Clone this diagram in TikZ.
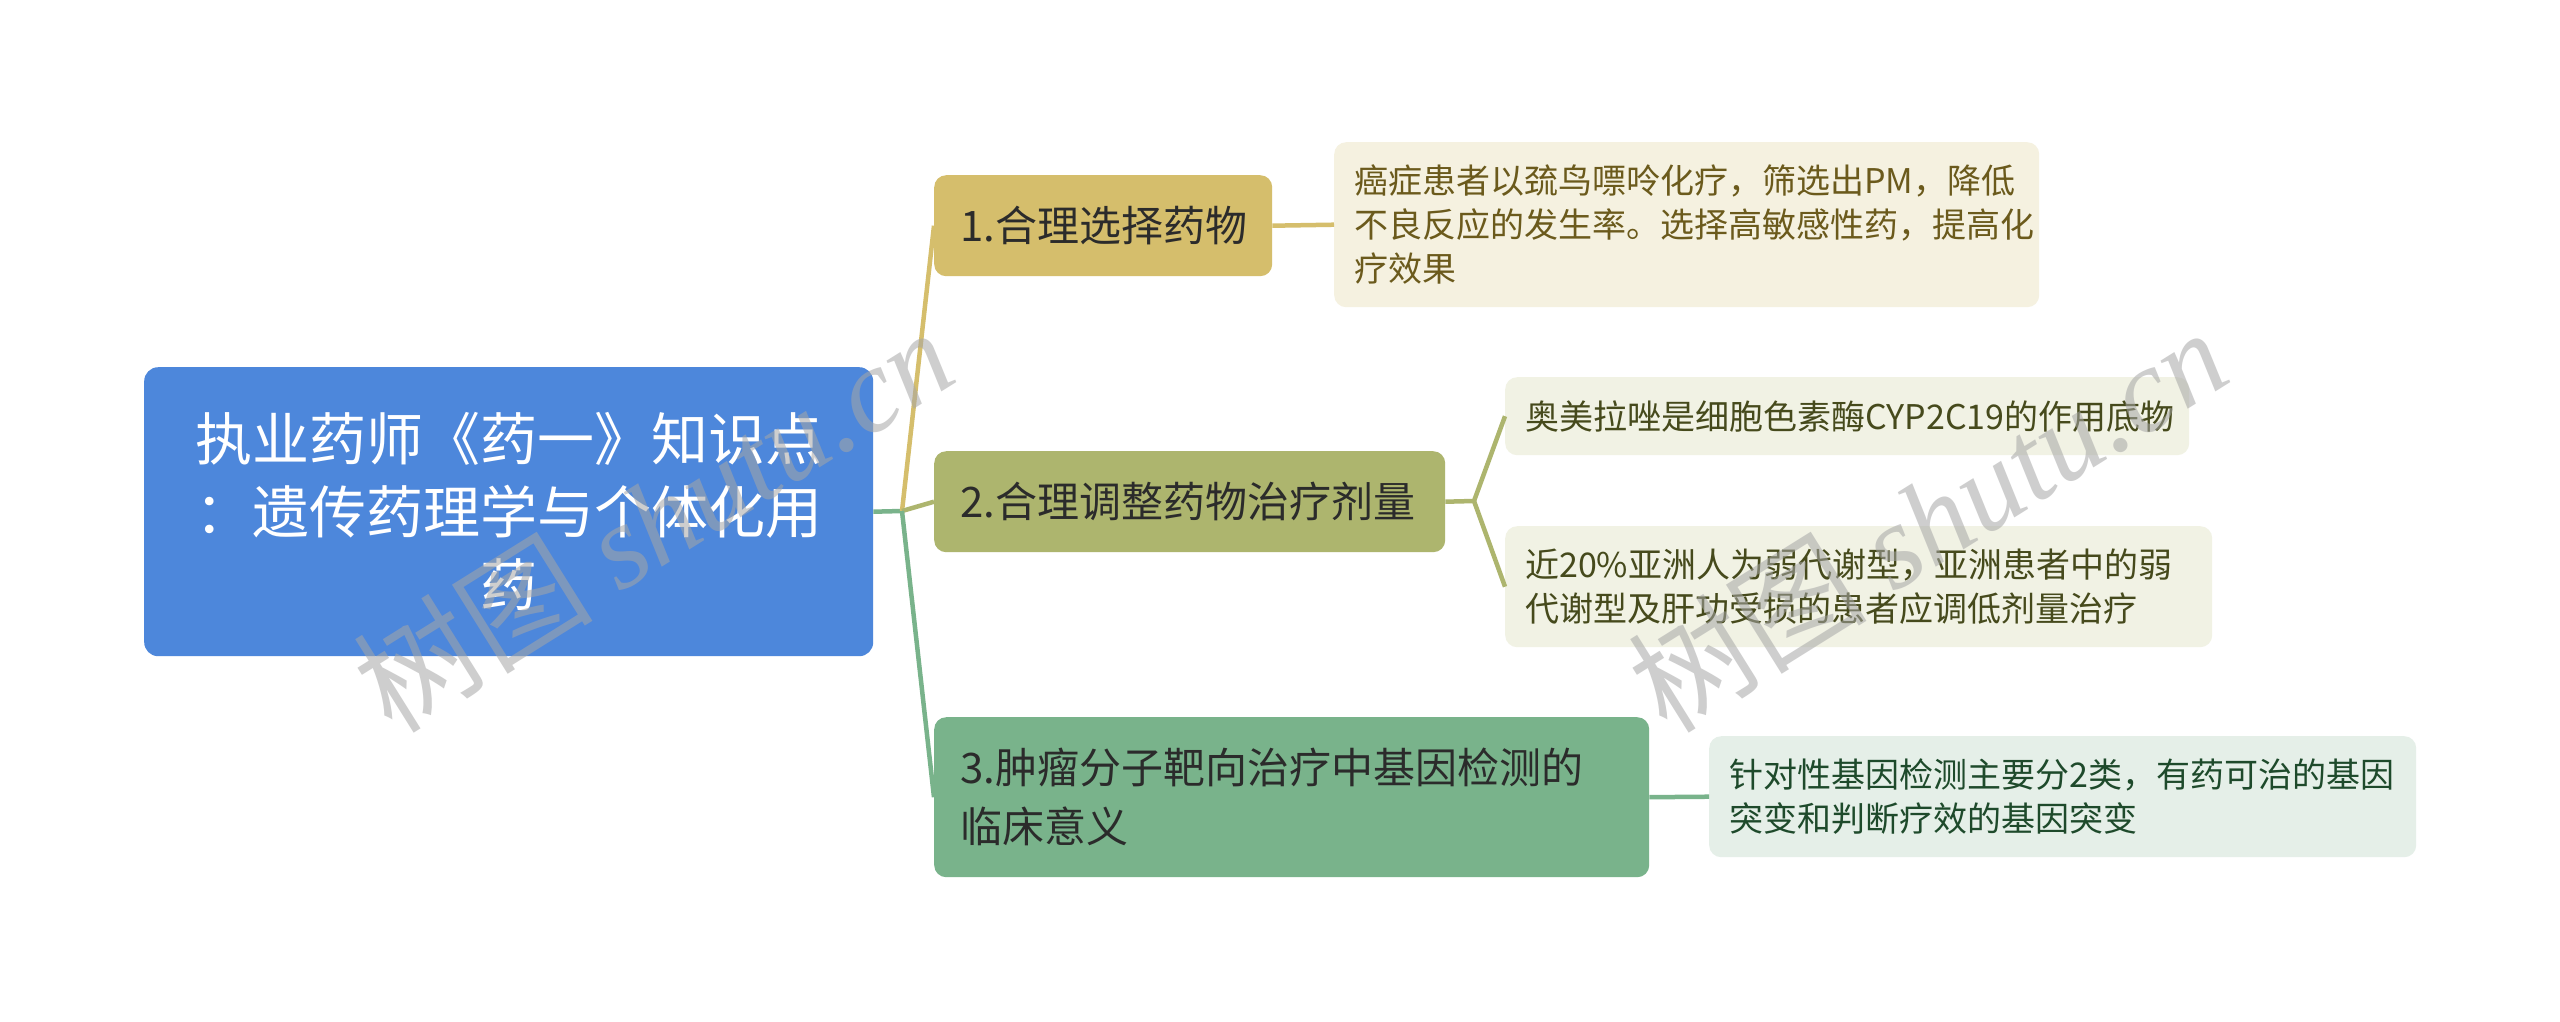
\documentclass[tikz,border=0pt]{standalone}
\usepackage{fontspec}
\setmainfont{Noto Sans CJK SC}
\newfontfamily\wmfont{Liberation Serif}
\definecolor{rootblue}{HTML}{4D87DB}
\definecolor{bone}{HTML}{D5BE6C}
\definecolor{btwo}{HTML}{ADB56E}
\definecolor{bthree}{HTML}{79B38B}
\definecolor{lone}{HTML}{F5F1E0}
\definecolor{ltwo}{HTML}{F1F2E4}
\definecolor{lthree}{HTML}{E5EFE8}
\definecolor{tone}{HTML}{6B5A1C}
\definecolor{ttwo}{HTML}{464A1C}
\definecolor{tthree}{HTML}{1E4A2B}
\definecolor{tbranch}{HTML}{2B2B2B}
\tikzset{
  box/.style={anchor=north west, rounded corners=12pt, inner ysep=0pt, align=left},
  rootbox/.style={box, fill=rootblue, text=white, align=center, rounded corners=14pt,
     font=\fontsize{57}{73}\selectfont},
  branchbox/.style={box, inner xsep=26pt, font=\fontsize{42}{59}\selectfont, text=tbranch},
  leafbox/.style={box, inner xsep=20pt, font=\fontsize{34}{44}\selectfont},
  conn/.style={line width=4.5pt},
  wm/.style={rotate=32, text=black!35, opacity=0.55, font=\fontsize{120}{120}\selectfont}
}
\begin{document}
\begin{tikzpicture}[x=1pt,y=-1pt]
\path[use as bounding box, fill=white] (0,0) rectangle (2560,1021);
% root
\node[rootbox, minimum width=729pt, minimum height=289pt, text width=680pt, inner xsep=24.5pt] (root) at (144,367)
  {执业药师《药一》知识点\\：遗传药理学与个体化用\\药};
% branches
\node[branchbox, fill=bone, minimum height=101pt, text width=286pt] (b1) at (934,175) {1.合理选择药物};
\node[branchbox, fill=btwo, minimum height=101pt, text width=459pt] (b2) at (934,451) {2.合理调整药物治疗剂量};
\node[branchbox, fill=bthree, minimum height=160pt, text width=663pt] (b3) at (934,717) {3.肿瘤分子靶向治疗中基因检测的\\临床意义};
% leaves
\node[leafbox, fill=lone, text=tone, minimum height=165pt, text width=665pt] (l1) at (1334,142)
  {癌症患者以巯鸟嘌呤化疗，筛选出PM，降低\\不良反应的发生率。选择高敏感性药，提高化\\疗效果};
\node[leafbox, fill=ltwo, text=ttwo, minimum height=78pt, text width=644pt] (l2a) at (1505,377)
  {奥美拉唑是细胞色素酶CYP2C19的作用底物};
\node[leafbox, fill=ltwo, text=ttwo, minimum height=121pt, text width=667pt] (l2b) at (1505,526)
  {近20\%亚洲人为弱代谢型，亚洲患者中的弱\\代谢型及肝功受损的患者应调低剂量治疗};
\node[leafbox, fill=lthree, text=tthree, minimum height=121pt, text width=667pt] (l3) at (1709,736)
  {针对性基因检测主要分2类，有药可治的基因\\突变和判断疗效的基因突变};
% connectors
\coordinate (j) at (902,511);
\coordinate (j2) at (1474,501);
\draw[conn, bthree] (root.east) -- (j);
\draw[conn, bone] (j) -- (b1.west);
\draw[conn, btwo] (j) -- (b2.west);
\draw[conn, bthree] (j) -- (b3.west);
\draw[conn, bone] (b1.east) -- (l1.west);
\draw[conn, btwo] (b2.east) -- (j2);
\draw[conn, btwo] (j2) -- (l2a.west);
\draw[conn, btwo] (j2) -- (l2b.west);
\draw[conn, bthree] (b3.east) -- (l3.west);
% watermarks
\node[wm] (wm1) at (653,519) {树图 {\wmfont\itshape shutu.cn}};
\node[wm] (wm2) at (1927,519) {树图 {\wmfont\itshape shutu.cn}};
\end{tikzpicture}
\end{document}
